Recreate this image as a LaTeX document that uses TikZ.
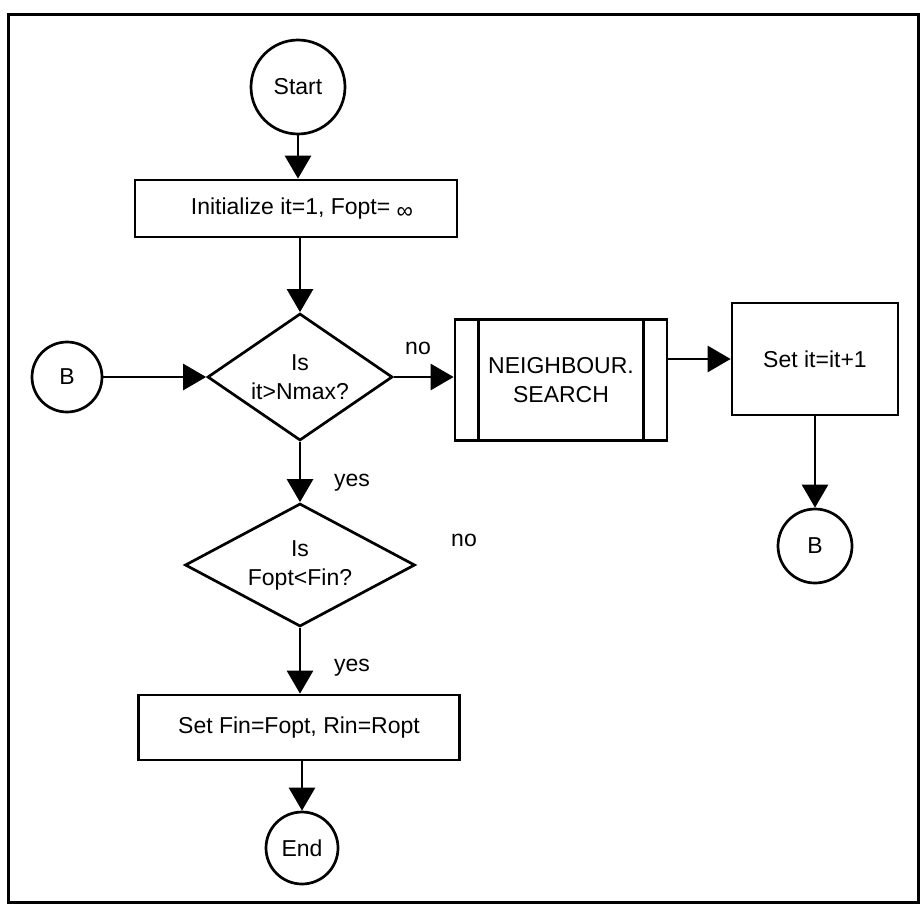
\documentclass[tikz,border=0pt]{standalone}
\usepackage{fontspec}
\setmainfont{Liberation Sans}
\usetikzlibrary{shapes.geometric,arrows.meta,calc}
\begin{document}
\begin{tikzpicture}[x=1pt,y=-1pt,
  every node/.style={font=\fontsize{23}{29}\selectfont},
  conn/.style={draw,circle,line width=2.7pt,inner sep=0pt},
  procbox/.style={draw,rectangle,line width=2.7pt,inner sep=0pt,align=center},
  decision/.style={draw,diamond,line width=2.7pt,inner sep=0pt,align=center},
  flow/.style={line width=2.7pt,-{Triangle[length=23pt,width=26pt]}},
  lbl/.style={inner sep=0pt}]
  \useasboundingbox (0,0) rectangle (920,905);
  % outer frame
  \draw[line width=3pt] (8,14) rectangle (918,902);

  % main column
  \node[conn,minimum size=94pt] (start) at (298,87) {Start};
  \node[procbox,minimum width=322pt,minimum height=57pt] (init) at (296,208.5)
    {\hspace*{12pt}Initialize it=1, Fopt=\ \raisebox{-4pt}{∞}};
  \node[decision,minimum width=185pt,minimum height=127pt,aspect=1.46] (d1) at (300,377)
    {Is\\it>Nmax?};
  \node[decision,minimum width=230pt,minimum height=123pt,aspect=1.87] (d2) at (300,565)
    {Is\\Fopt<Fin?};
  \node[procbox,minimum width=321pt,minimum height=65pt] (fin) at (299,727.5)
    {Set Fin=Fopt, Rin=Ropt};
  \node[conn,minimum size=72pt] (end) at (302,848) {End};

  % loop entry connector
  \node[conn,minimum size=70pt] (bl) at (67,377) {B};

  % neighbourhood search (predefined process)
  \node[procbox,minimum width=212pt,minimum height=121pt] (nb) at (561,380)
    {NEIGHBOUR.\\SEARCH};
  \draw[line width=2.7pt] ($(nb.north west)+(25,0)$) -- ($(nb.south west)+(25,0)$);
  \draw[line width=2.7pt] ($(nb.north east)+(-25,0)$) -- ($(nb.south east)+(-25,0)$);

  % iteration counter and loop exit connector
  \node[procbox,minimum width=166pt,minimum height=112pt] (inc) at (815,359) {Set it=it+1};
  \node[conn,minimum size=74pt] (br) at (815,546) {B};

  % branch labels
  \node[lbl] (no1) at (418,348) {no};
  \node[lbl] (yes1) at (352,483) {yes};
  \node[lbl] (no2) at (464,540) {no};
  \node[lbl] (yes2) at (352,668) {yes};

  % connectors
  \draw[flow] (start) -- (start |- init.north);
  \draw[flow] (d1 |- init.south) -- (d1);
  \draw[flow] (bl) -- (d1);
  \draw[flow] (d1.east) -- (d1.east -| nb.west);
  \draw[flow] (nb.east |- inc.west) -- (inc.west);
  \draw[flow] (inc) -- (br);
  \draw[flow] (d1) -- (d2);
  \draw[flow] (d2.south) -- (d2.south |- fin.north);
  \draw[flow] (end |- fin.south) -- (end);
\end{tikzpicture}
\end{document}
